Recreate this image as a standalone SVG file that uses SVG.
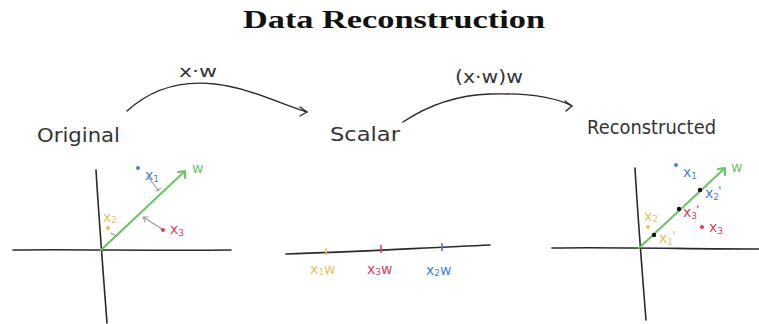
<svg xmlns="http://www.w3.org/2000/svg" width="759" height="324" viewBox="0 0 759 324">
<style>
.ax{fill:none;stroke:#2a2a2a;stroke-width:1.6;stroke-linecap:round}
.arc{fill:none;stroke:#2a2a2a;stroke-width:1.4;stroke-linecap:round;stroke-linejoin:round}
.gr{fill:none;stroke:#72c06c;stroke-width:2.2;stroke-linecap:round;stroke-linejoin:round}
.gy{fill:none;stroke:#9a9a9a;stroke-width:1.1;stroke-linecap:round;stroke-linejoin:round}
.hand{font-family:"DejaVu Sans","Liberation Sans",sans-serif;fill:#333}
.lbl{font-family:"DejaVu Sans","Liberation Sans",sans-serif;font-size:14px}
.sub{font-size:9px}
.pr{font-size:13px}
.b{fill:#4a7fd8}.r{fill:#d9405c}.y{fill:#e2c45e}.g{fill:#72c06c}.k{fill:#111}
.tb{stroke:#4a7fd8;stroke-width:1.6}.tr{stroke:#d9405c;stroke-width:1.6}.ty{stroke:#e2c45e;stroke-width:1.6}
</style>
<text x="394" y="28" text-anchor="middle" font-family="Liberation Serif,serif" font-weight="bold" font-size="26" fill="#111" textLength="302" lengthAdjust="spacingAndGlyphs">Data Reconstruction</text>

<g id="connectors">
<path class="arc" d="M127,111 C150,90 180,80 215,84 C250,88 280,104 307,112"/>
<path class="arc" d="M300,107 L307,112 L300,116"/>
<text class="hand" x="198" y="77" text-anchor="middle" font-size="15" textLength="38" lengthAdjust="spacingAndGlyphs">x·w</text>
<path class="arc" d="M403,122 C430,104 460,95 490,94 C525,93 555,97 572,106"/>
<path class="arc" d="M565,101 L572,106 L566,111"/>
<text class="hand" x="489" y="83" text-anchor="middle" font-size="17" textLength="68" lengthAdjust="spacingAndGlyphs">(x·w)w</text>
</g>

<g id="original">
<text class="hand" x="37" y="142" font-size="19" textLength="83" lengthAdjust="spacingAndGlyphs">Original</text>
<path class="ax" d="M13,250 C70,249 150,251 231,250"/>
<path class="ax" d="M96,170 C99,220 103,270 107,323"/>
<path class="gy" d="M148,177 L159,191 M156,191 L161,188"/>
<path class="gy" d="M111,233 L116,236"/>
<path class="gy" d="M162,229 L143,217 M143,217 L148,217 M143,217 L145,222"/>
<path class="gr" d="M101,250 L185,171 M178,172 L185,171 L185,178"/>
<text class="lbl g" x="192" y="173">w</text>
<circle class="b" cx="138" cy="168" r="2"/>
<text class="lbl b" x="145" y="180">x<tspan class="sub" dy="2">1</tspan></text>
<text class="lbl y" x="103" y="222">x<tspan class="sub" dy="1">2</tspan></text>
<circle class="y" cx="108" cy="228" r="2"/>
<circle class="r" cx="163" cy="230" r="2"/>
<text class="lbl r" x="170" y="234">x<tspan class="sub" dy="2">3</tspan></text>
</g>

<g id="scalar">
<text class="hand" x="330" y="141" font-size="19" textLength="70" lengthAdjust="spacingAndGlyphs">Scalar</text>
<path class="ax" d="M286,254 C350,252 420,248 490,245"/>
<line class="ty" x1="326" y1="248" x2="326" y2="255"/>
<line class="tr" x1="381" y1="245" x2="381" y2="253"/>
<line class="tb" x1="442" y1="243" x2="442" y2="251"/>
<text class="lbl y" x="310" y="274">x<tspan class="sub" dy="1">1</tspan><tspan dy="-1">w</tspan></text>
<text class="lbl r" x="367" y="274">x<tspan class="sub" dy="1">3</tspan><tspan dy="-1">w</tspan></text>
<text class="lbl b" x="426" y="275">x<tspan class="sub" dy="1">2</tspan><tspan dy="-1">w</tspan></text>
</g>

<g id="reconstructed">
<text class="hand" x="587" y="134" font-size="19" textLength="129" lengthAdjust="spacingAndGlyphs">Reconstructed</text>
<path class="ax" d="M552,248 C620,247 690,249 759,249"/>
<path class="ax" d="M635,168 C638,220 642,270 646,320"/>
<path class="gr" d="M639,248 L725,168 M718,169 L725,168 L725,175"/>
<text class="lbl g" x="731" y="172">w</text>
<circle class="b" cx="676" cy="165" r="2"/>
<text class="lbl b" x="683" y="177">x<tspan class="sub" dy="2">1</tspan></text>
<circle class="k" cx="700" cy="190" r="2.2"/>
<text class="lbl b" x="705" y="198">x<tspan class="sub" dy="2">2</tspan><tspan class="pr" dx="-1" dy="-5">'</tspan></text>
<circle class="k" cx="679" cy="209" r="2.2"/>
<text class="lbl r" x="683" y="217">x<tspan class="sub" dy="2">3</tspan><tspan class="pr" dx="-1" dy="-5">'</tspan></text>
<circle class="k" cx="654" cy="235" r="2.2"/>
<text class="lbl y" x="659" y="243">x<tspan class="sub" dy="2">1</tspan><tspan class="pr" dx="-1" dy="-5">'</tspan></text>
<text class="lbl y" x="644" y="221">x<tspan class="sub" dy="1">2</tspan></text>
<circle class="y" cx="648" cy="227" r="2"/>
<circle class="r" cx="702" cy="227" r="2"/>
<text class="lbl r" x="709" y="232">x<tspan class="sub" dy="2">3</tspan></text>
</g>
</svg>
